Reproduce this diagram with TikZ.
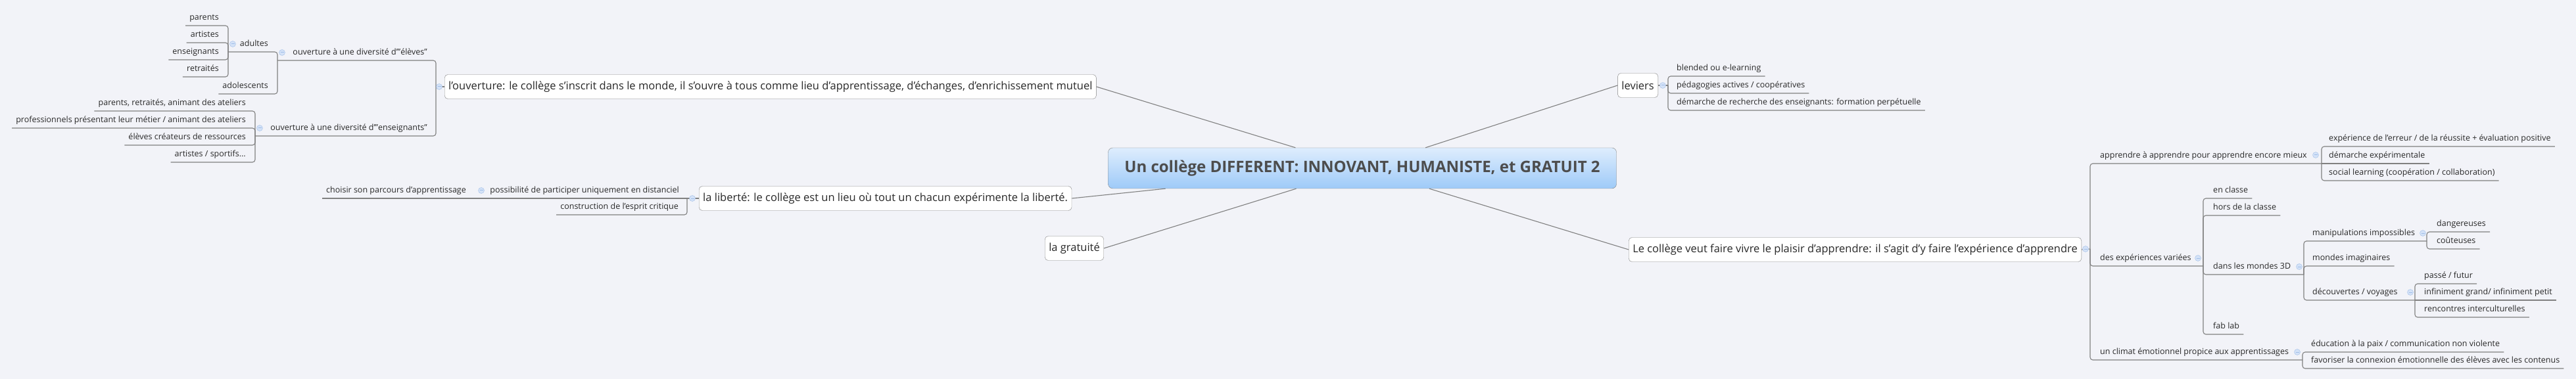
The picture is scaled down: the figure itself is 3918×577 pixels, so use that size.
\documentclass[tikz,border=0pt]{standalone}
\usepackage{fontspec}
\setmainfont{Open Sans}
\definecolor{paper}{RGB}{242,243,248}
\definecolor{wire}{RGB}{128,128,128}
\definecolor{ink}{RGB}{40,40,40}
\definecolor{rootink}{RGB}{77,77,77}
\definecolor{roottop}{RGB}{222,237,253}
\definecolor{rootbot}{RGB}{158,202,248}
\definecolor{foldfill}{RGB}{212,226,247}
\definecolor{folddraw}{RGB}{160,190,232}
\tikzset{
  root/.style={draw=wire,rounded corners=7pt,top color=roottop,bottom color=rootbot,text=rootink,font=\fontsize{24}{28}\selectfont\bfseries,minimum width=773pt,minimum height=62pt},
  topic/.style={draw=wire,rounded corners=5pt,fill=white,text=ink,font=\fontsize{16.5}{20}\selectfont,minimum height=37pt,inner xsep=6pt},
  sub/.style={text=ink,font=\fontsize{12.5}{15}\selectfont,inner xsep=6pt,inner ysep=0pt,text height=10pt,text depth=8.5pt},
  subl/.style={sub,anchor=south east},
  subr/.style={sub,anchor=south west},
  link/.style={draw=wire,line width=1.1pt},
  brace/.style={draw=wire,line width=1.1pt,rounded corners=4pt},
  fold/.style={circle,draw=folddraw,fill=foldfill,inner sep=0pt,minimum size=9pt,path picture={\draw[folddraw,line width=1pt](path picture bounding box.west)++(2pt,0)--++(5pt,0);}}
}

\begin{document}
\begin{tikzpicture}[x=1pt,y=-1pt]
\useasboundingbox (0,0) rectangle (3918,577);
\fill[paper] (0,0) rectangle (3918,577);

\node[root](root) at (2072,256){Un collège DIFFERENT: INNOVANT, HUMANISTE, et GRATUIT 2};
\node[topic,anchor=west](ouv) at (676,132){l'ouverture: le collège s'inscrit dans le monde, il s'ouvre à tous comme lieu d'apprentissage, d'échanges, d'enrichissement mutuel};
\node[topic,anchor=west](lib) at (1063,302){la liberté: le collège est un lieu où tout un chacun expérimente la liberté.};
\node[topic](grat) at (1634,378){la gratuité};
\node[topic,anchor=east](lev) at (2522,130){leviers};
\node[topic,anchor=east](col) at (3166,380){Le collège veut  faire vivre le plaisir d'apprendre: il s'agit d'y faire l'expérience d'apprendre};

\coordinate(ouv-b) at (663,132);
\coordinate(el-b) at (422,92);
\coordinate(ad-b) at (347,79);
\coordinate(en-b) at (388,207);
\coordinate(lib-b) at (1045,302);
\coordinate(pos-b) at (723,302);
\coordinate(lev-b) at (2537,130);
\coordinate(col-b) at (3179,379);
\coordinate(app-b) at (3531,249);
\coordinate(var-b) at (3351,405);
\coordinate(mon-b) at (3504,418);
\coordinate(man-b) at (3691,367);
\coordinate(dec-b) at (3673,457);
\coordinate(cli-b) at (3502,548);

\node[subl](el) at (656,92){ouverture à une diversité d'"élèves"};
\node[subl](ad) at (414,79){adultes};
\node[subl](ad1) at (339,39){parents};
\node[subl](ad2) at (339,65){artistes};
\node[subl](ad3) at (339,91){enseignants};
\node[subl](ad4) at (339,117){retraités};
\node[subl](ado) at (414,143){adolescents};
\node[subl](en) at (656,207){ouverture à une diversité d'"enseignants"};
\node[subl](en1) at (380,169){parents, retraités, animant des ateliers};
\node[subl](en2) at (380,195){professionnels  présentant leur métier / animant des ateliers};
\node[subl](en3) at (380,221){élèves créateurs de ressources};
\node[subl](en4) at (380,247){artistes / sportifs...};
\node[subl](pos) at (1039,302){possibilité de participer uniquement en distanciel};
\node[subl](cho) at (715,302){choisir son parcours d'apprentissage};
\node[subl](con) at (1038,327){construction de l'esprit critique};

\node[subr](lev1) at (2544,116){blended ou e-learning};
\node[subr](lev2) at (2544,142){pédagogies actives / coopératives};
\node[subr](lev3) at (2544,168){démarche de recherche des enseignants: formation perpétuelle};
\node[subr](app) at (3188,249){apprendre à apprendre pour apprendre encore mieux};
\node[subr](app1) at (3536,223){expérience de l'erreur / de la réussite + évaluation positive};
\node[subr](app2) at (3536,249){démarche expérimentale};
\node[subr](app3) at (3536,275){social learning (coopération / collaboration)};
\node[subr](var) at (3188,405){des expériences variées};
\node[subr](var1) at (3360,302){en classe};
\node[subr](var2) at (3360,328){hors de la classe};
\node[subr](mon) at (3360,418){dans les mondes 3D};
\node[subr](man) at (3511,367){manipulations impossibles};
\node[subr](man1) at (3700,353){dangereuses};
\node[subr](man2) at (3700,379){coûteuses};
\node[subr](ima) at (3511,405){mondes imaginaires};
\node[subr](dec) at (3511,457){découvertes / voyages};
\node[subr](dec1) at (3681,432){passé / futur};
\node[subr](dec2) at (3681,457){infiniment grand/ infiniment petit};
\node[subr](dec3) at (3681,483){rencontres interculturelles};
\node[subr](fab) at (3360,509){fab lab};
\node[subr](cli) at (3188,548){un climat émotionnel propice aux apprentissages};
\node[subr](cli1) at (3509,536){éducation à la paix / communication non violente};
\node[subr](cli2) at (3509,561){favoriser la connexion émotionnelle des élèves avec les contenus};

\draw[link](root)--(ouv.east);
\draw[link](root)--(lib.east);
\draw[link](root)--(grat.east);
\draw[link](root)--(lev.west);
\draw[link](root)--(col.west);

\draw[link](ouv.west)--(ouv-b);
\draw[brace](ouv-b)|-(el-b);
\draw[brace](ouv-b)|-(en-b);
\draw[brace](el-b)|-(ad-b);
\draw[brace](el-b)|-(ado.south west);
\draw[brace](ad-b)|-(ad1.south west);
\draw[brace](ad-b)|-(ad2.south west);
\draw[brace](ad-b)|-(ad3.south west);
\draw[brace](ad-b)|-(ad4.south west);
\draw[brace](en-b)|-(en1.south west);
\draw[brace](en-b)|-(en2.south west);
\draw[brace](en-b)|-(en3.south west);
\draw[brace](en-b)|-(en4.south west);

\draw[link](lib.west)--(lib-b);
\draw[link](lib-b)--(pos-b);
\draw[link](pos-b)--(cho.south west);
\draw[brace](lib-b)|-(con.south west);

\draw[link](lev.east)--(lev-b);
\draw[brace](lev-b)|-(lev1.south east);
\draw[brace](lev-b)|-(lev2.south east);
\draw[brace](lev-b)|-(lev3.south east);

\draw[link](col.east)--(col-b);
\draw[brace](col-b)|-(app-b);
\draw[brace](col-b)|-(var-b);
\draw[brace](col-b)|-(cli-b);
\draw[brace](app-b)|-(app1.south east);
\draw[link](app-b)--(app2.south east);
\draw[brace](app-b)|-(app3.south east);
\draw[brace](var-b)|-(var1.south east);
\draw[brace](var-b)|-(var2.south east);
\draw[brace](var-b)|-(mon-b);
\draw[brace](var-b)|-(fab.south east);
\draw[brace](mon-b)|-(man-b);
\draw[brace](mon-b)|-(ima.south east);
\draw[brace](mon-b)|-(dec-b);
\draw[brace](man-b)|-(man1.south east);
\draw[brace](man-b)|-(man2.south east);
\draw[brace](dec-b)|-(dec1.south east);
\draw[link](dec-b)--(dec2.south east);
\draw[brace](dec-b)|-(dec3.south east);
\draw[brace](cli-b)|-(cli1.south east);
\draw[brace](cli-b)|-(cli2.south east);

\node[fold](ouv-f) at (668,132){};
\node[fold](lib-f) at (1053,302){};
\node[fold](lev-f) at (2529,130){};
\node[fold](col-f) at (3172,379){};
\node[fold](el-f) at (429,80){};
\node[fold](ad-f) at (354,67){};
\node[fold](en-f) at (395,195){};
\node[fold](pos-f) at (732,290){};
\node[fold](app-f) at (3522,236){};
\node[fold](var-f) at (3343,393){};
\node[fold](mon-f) at (3497,406){};
\node[fold](man-f) at (3685,355){};
\node[fold](dec-f) at (3666,445){};
\node[fold](cli-f) at (3494,536){};
\end{tikzpicture}
\end{document}
